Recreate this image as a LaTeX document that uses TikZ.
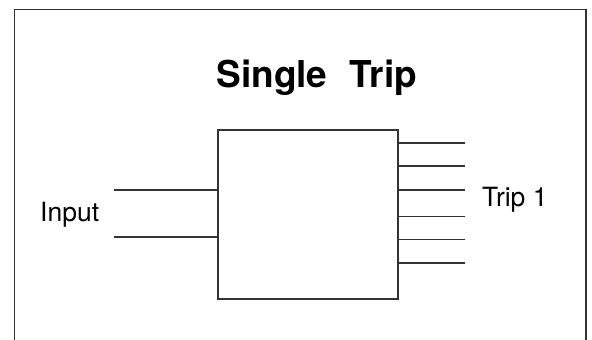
\documentclass[tikz,border=0pt]{standalone}
\usepackage{fontspec}
\setmainfont{TeX Gyre Heros}
\begin{document}
\begin{tikzpicture}[x=1pt,y=-1pt,
  ln/.style={draw=black!80, line width=1.7pt},
  lbl/.style={inner sep=0pt, anchor=base west, font=\fontsize{26.5}{30}\selectfont}]
\useasboundingbox (0,0) rectangle (592,340);
% outer frame (open at the bottom, runs off the picture)
\coordinate (fbl) at (14.5,345);
\coordinate (ftl) at (14.5,9.5);
\coordinate (ftr) at (585.7,9.5);
\coordinate (fbr) at (585.7,345);
\draw[ln] (fbl) -- (ftl) -- (ftr) -- (fbr);
% title
\node[inner sep=0pt, anchor=base, font=\fontsize{37}{42}\selectfont\bfseries] (title) at (316.7,87.3) {Single\hspace{0.6em}Trip};
% box
\node[ln, anchor=north west, minimum width=179.7pt, minimum height=168.7pt, inner sep=0pt] (box) at (217.2,129.3) {};
% inputs
\coordinate (i1) at (114,190);
\coordinate (i2) at (114,237);
\draw[ln] (i1) -- (i1 -| box.west);
\draw[ln] (i2) -- (i2 -| box.west);
\node[lbl] (input) at (40,221.7) {Input};
% outputs
\foreach \y [count=\k] in {143.3,166.3,189.7,216.5,239.5,263.3}{
  \coordinate (o\k) at (465,\y);
  \draw[ln] (o\k -| box.east) -- (o\k);
}
\node[lbl] (trip) at (482,206.7) {Trip 1};
\end{tikzpicture}
\end{document}
